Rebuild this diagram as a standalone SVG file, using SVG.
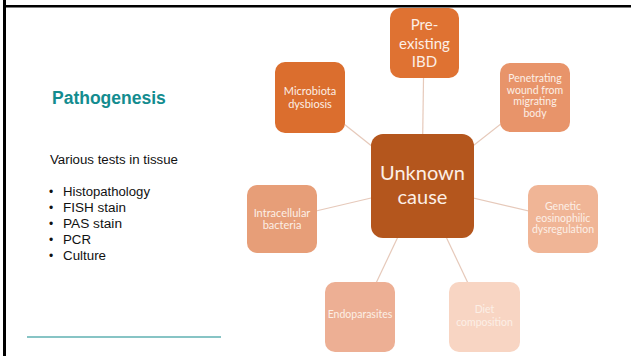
<svg xmlns="http://www.w3.org/2000/svg" width="631" height="356" viewBox="0 0 631 356">
  <style>
    .frame { stroke: #000; fill: none; }
    .title { font-family: "Liberation Sans", Arial, sans-serif; font-weight: bold; font-size: 17.5px; fill: #138c8f; }
    .body { font-family: "Liberation Sans", Arial, sans-serif; font-size: 12px; fill: #111; }
    .link { stroke: #e6c9ba; stroke-width: 1.2; fill: none; }
    .box { rx: 10; ry: 10; }
    .lbl { font-family: Lato, "Open Sans", sans-serif; fill: #fcefe6; text-anchor: middle; }
    .s11 { font-size: 11px; }
    .s10 { font-size: 10.5px; }
  </style>

  <rect width="631" height="356" fill="#ffffff"/>

  <!-- slide frame: left and top edges -->
  <line class="frame" x1="4.5" y1="0" x2="4.5" y2="356" stroke-width="3"/>
  <line class="frame" x1="3" y1="6.2" x2="631" y2="6.2" stroke-width="2.6"/>

  <!-- left text column -->
  <text class="title" x="52" y="104">Pathogenesis</text>
  <text class="body" x="50" y="164" textLength="128" lengthAdjust="spacingAndGlyphs">Various tests in tissue</text>
  <g class="body">
    <text x="49" y="196">•</text><text x="63" y="196" textLength="87" lengthAdjust="spacingAndGlyphs">Histopathology</text>
    <text x="49" y="212">•</text><text x="63" y="212" textLength="63" lengthAdjust="spacingAndGlyphs">FISH stain</text>
    <text x="49" y="228">•</text><text x="63" y="228" textLength="59" lengthAdjust="spacingAndGlyphs">PAS stain</text>
    <text x="49" y="244">•</text><text x="63" y="244" textLength="28" lengthAdjust="spacingAndGlyphs">PCR</text>
    <text x="49" y="260">•</text><text x="63" y="260" textLength="43" lengthAdjust="spacingAndGlyphs">Culture</text>
  </g>
  <line x1="27" y1="337" x2="221" y2="337" stroke="#5fb1b2" stroke-width="1.5"/>

  <!-- connectors from the central cause to each factor -->
  <g id="connectors">
    <line class="link" x1="422" y1="186" x2="424" y2="43" stroke="#ddd3cd"/>
    <line class="link" x1="422" y1="186" x2="310" y2="97"/>
    <line class="link" x1="422" y1="186" x2="535" y2="97"/>
    <line class="link" x1="422" y1="186" x2="282" y2="219"/>
    <line class="link" x1="422" y1="186" x2="563" y2="219"/>
    <line class="link" x1="422" y1="186" x2="360" y2="317"/>
    <line class="link" x1="422" y1="186" x2="484" y2="317"/>
  </g>

  <g id="pre-existing-ibd">
    <rect class="box" x="390" y="8" width="69" height="70" fill="#df7232"/>
    <text class="lbl" x="424.5" y="30" font-size="15">Pre-</text>
    <text class="lbl" x="424.5" y="49" font-size="15">existing</text>
    <text class="lbl" x="424.5" y="67" font-size="15">IBD</text>
  </g>

  <g id="microbiota-dysbiosis">
    <rect class="box" x="275" y="62" width="70" height="71" fill="#db6e2e"/>
    <text class="lbl s11" x="310" y="95">Microbiota</text>
    <text class="lbl s11" x="310" y="108">dysbiosis</text>
  </g>

  <g id="penetrating-wound">
    <rect class="box" x="500" y="63" width="70" height="69" fill="#e8946a"/>
    <text class="lbl s10" x="535" y="82">Penetrating</text>
    <text class="lbl s10" x="535" y="93.5">wound from</text>
    <text class="lbl s10" x="535" y="105">migrating</text>
    <text class="lbl s10" x="535" y="116.5">body</text>
  </g>

  <g id="unknown-cause">
    <rect x="371" y="134" width="103" height="104" rx="12" ry="12" fill="#b4561d"/>
    <text class="lbl" x="422.5" y="180" font-size="20">Unknown</text>
    <text class="lbl" x="422.5" y="204" font-size="20">cause</text>
  </g>

  <g id="intracellular-bacteria">
    <rect class="box" x="247" y="185" width="70" height="68" fill="#e79e78"/>
    <text class="lbl s11" x="282" y="217">Intracellular</text>
    <text class="lbl s11" x="282" y="229">bacteria</text>
  </g>

  <g id="genetic-eosinophilic-dysregulation">
    <rect class="box" x="528" y="185" width="70" height="68" fill="#f0b596" />
    <text class="lbl s10" x="563" y="210">Genetic</text>
    <text class="lbl s10" x="563" y="222">eosinophilic</text>
    <text class="lbl s10" x="563" y="233">dysregulation</text>
  </g>

  <g id="endoparasites">
    <rect class="box" x="325" y="282" width="70" height="70" fill="#edaf94"/>
    <text class="lbl s10" x="360" y="318">Endoparasites</text>
  </g>

  <g id="diet-composition">
    <rect class="box" x="449" y="282" width="71" height="70" fill="#f8d5c3"/>
    <text class="lbl s10" x="484.5" y="313" fill="#fdeee6">Diet</text>
    <text class="lbl s10" x="484.5" y="326" fill="#fdeee6">composition</text>
  </g>
</svg>
